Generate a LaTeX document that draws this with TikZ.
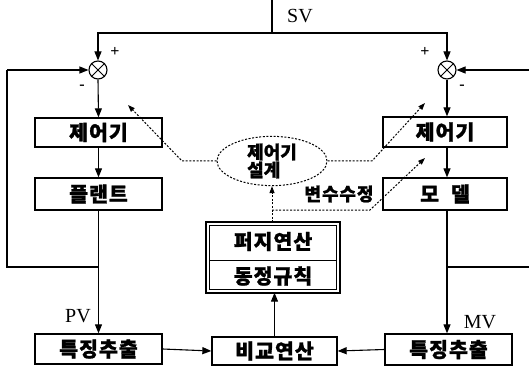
\documentclass[tikz,border=0pt]{standalone}
\usepackage{fontspec}
\setmainfont{Liberation Serif}
\newfontfamily\kr{Noto Sans CJK KR}[LetterSpace=5,BoldFeatures={FakeBold=1.2}]
\newfontfamily\krs{Noto Sans CJK KR}[LetterSpace=0,BoldFeatures={FakeBold=1.2}]
\usetikzlibrary{arrows.meta,shapes.geometric}
\begin{document}
\begin{tikzpicture}[x=1pt,y=-1pt,
  box/.style={draw, line width=1.3pt, rectangle, inner sep=0pt,
    font={\kr\bfseries\fontsize{20.5}{22}\selectfont}},
  arr/.style={-{Triangle[length=9pt,width=7pt]}, line width=1.1pt},
  ln/.style={line width=1.1pt},
  dot/.style={line width=1pt, dash pattern=on 2pt off 1.6pt},
  dotarr/.style={dot, -{Triangle[length=7pt,width=5pt]}},
  sumj/.style={draw, circle, line width=1.1pt, minimum size=18pt, inner sep=0pt},
  lab/.style={font=\fontsize{20}{22}\selectfont, inner sep=0pt},
  sgn/.style={font=\bfseries\fontsize{16}{16}\selectfont, inner sep=0pt}
]
\useasboundingbox (0,0) rectangle (529,371);
% summing junctions
\node[sumj] (cL) at (98,70) {};
\node[sumj] (cR) at (447,70) {};
\draw[line width=0.9pt] (cL.north west) -- (cL.south east) (cL.north east) -- (cL.south west);
\draw[line width=0.9pt] (cR.north west) -- (cR.south east) (cR.north east) -- (cR.south west);
% boxes
\node[box, minimum width=127pt, minimum height=29pt] (ctrlL) at (98.5,132.5) {제어기};
\node[box, minimum width=127pt, minimum height=32pt] (plant) at (98.5,194) {플랜트};
\node[box, minimum width=127pt, minimum height=30pt] (featL) at (98.5,349) {특징추출};
\node[box, minimum width=124pt, minimum height=30pt] (ctrlR) at (445,132) {제어기};
\node[box, minimum width=124pt, minimum height=32pt] (model) at (445,194) {모\hspace{12pt}델};
\node[box, minimum width=127pt, minimum height=31pt] (featR) at (448.5,349.5) {특징추출};
\node[box, minimum width=125pt, minimum height=28pt] (comp) at (274.5,351) {비교연산};
% fuzzy box
\node[box, draw=none, minimum width=132pt, minimum height=37pt] (fz1) at (273,241.5) {퍼지연산};
\node[box, draw=none, minimum width=132pt, minimum height=32pt] (fz2) at (273,276) {동정규칙};
\draw[line width=1.8pt] (fz1.north west) rectangle (fz2.south east);
\draw[line width=0.9pt] ([xshift=3pt,yshift=-3pt]fz1.north west) rectangle ([xshift=-3pt,yshift=3pt]fz2.south east);
\draw[line width=0.9pt] ([xshift=3pt]fz1.south west) -- ([xshift=-3pt]fz1.south east);
% ellipse
\node[draw, ellipse, dot, minimum width=110pt, minimum height=48pt, inner sep=0pt,
  align=left, font={\krs\bfseries\fontsize{18}{16}\selectfont}] (ell) at (272,161) {제어기\\설계};
% SV line
\coordinate (svT) at (272,0);
\coordinate (svJ) at (272,33);
\draw[ln] (svT) -- (svJ);
\draw[arr] (svJ) -| (cL.north);
\draw[arr] (svJ) -| (cR.north);
\node[lab] (sv) at (300,16) {SV};
% left column
\draw[arr] (cL.south) -- (ctrlL.north);
\draw[arr] (ctrlL.south) -- (plant.north);
\draw[arr] (plant.south) -- (plant.south |- featL.north);
\coordinate (fbL) at (98,267);
\coordinate (fbL1) at (7,267);
\coordinate (fbL2) at (7,70);
\draw[ln] (fbL) -- (fbL1) -- (fbL2);
\draw[arr] (fbL2) -- (cL.west);
% right column
\draw[arr] (cR.south) -- (cR.south |- ctrlR.north);
\draw[arr] (cR.south |- ctrlR.south) -- (cR.south |- model.north);
\draw[arr] (cR.south |- model.south) -- (cR.south |- featR.north);
\coordinate (fbR) at (447,267);
\coordinate (fbR1) at (529,267);
\coordinate (fbR2) at (529,70);
\draw[ln] (fbR) -- (fbR1);
\draw[arr] (fbR2) -- (cR.east);
% bottom
\draw[arr] (featL.east) -- (comp.west);
\draw[arr] (featR.west) -- (comp.east);
\draw[arr] (comp.north) -- (comp.north |- fz2.south);
% dotted tuning lines
\coordinate (l1) at (182,161);
\coordinate (l2) at (128,105);
\draw[dotarr] (ell.west) -- (l1) -- (l2);
\coordinate (r1) at (372,161);
\coordinate (r2) at (425,103);
\draw[dotarr] (ell.east) -- (r1) -- (r2);
\draw[dotarr] (fz1.north -| ell.south) -- (ell.south);
\coordinate (b1) at (272,210);
\coordinate (b2) at (370,210);
\coordinate (b3) at (425,158);
\draw[dotarr] (b1) -- (b2) -- (b3);
\node[font={\kr\bfseries\fontsize{18}{18}\selectfont}, inner sep=0pt] (vm) at (339,194) {변수수정};
% signs and labels
\node[sgn] (pL) at (115,52) {+};
\node[sgn] (mL) at (82,87) {-};
\node[sgn] (pR) at (425,52) {+};
\node[sgn] (mR) at (462,87) {-};
\node[lab] (pv) at (78,316) {PV};
\node[lab] (mv) at (480,322) {MV};
\end{tikzpicture}
\end{document}
